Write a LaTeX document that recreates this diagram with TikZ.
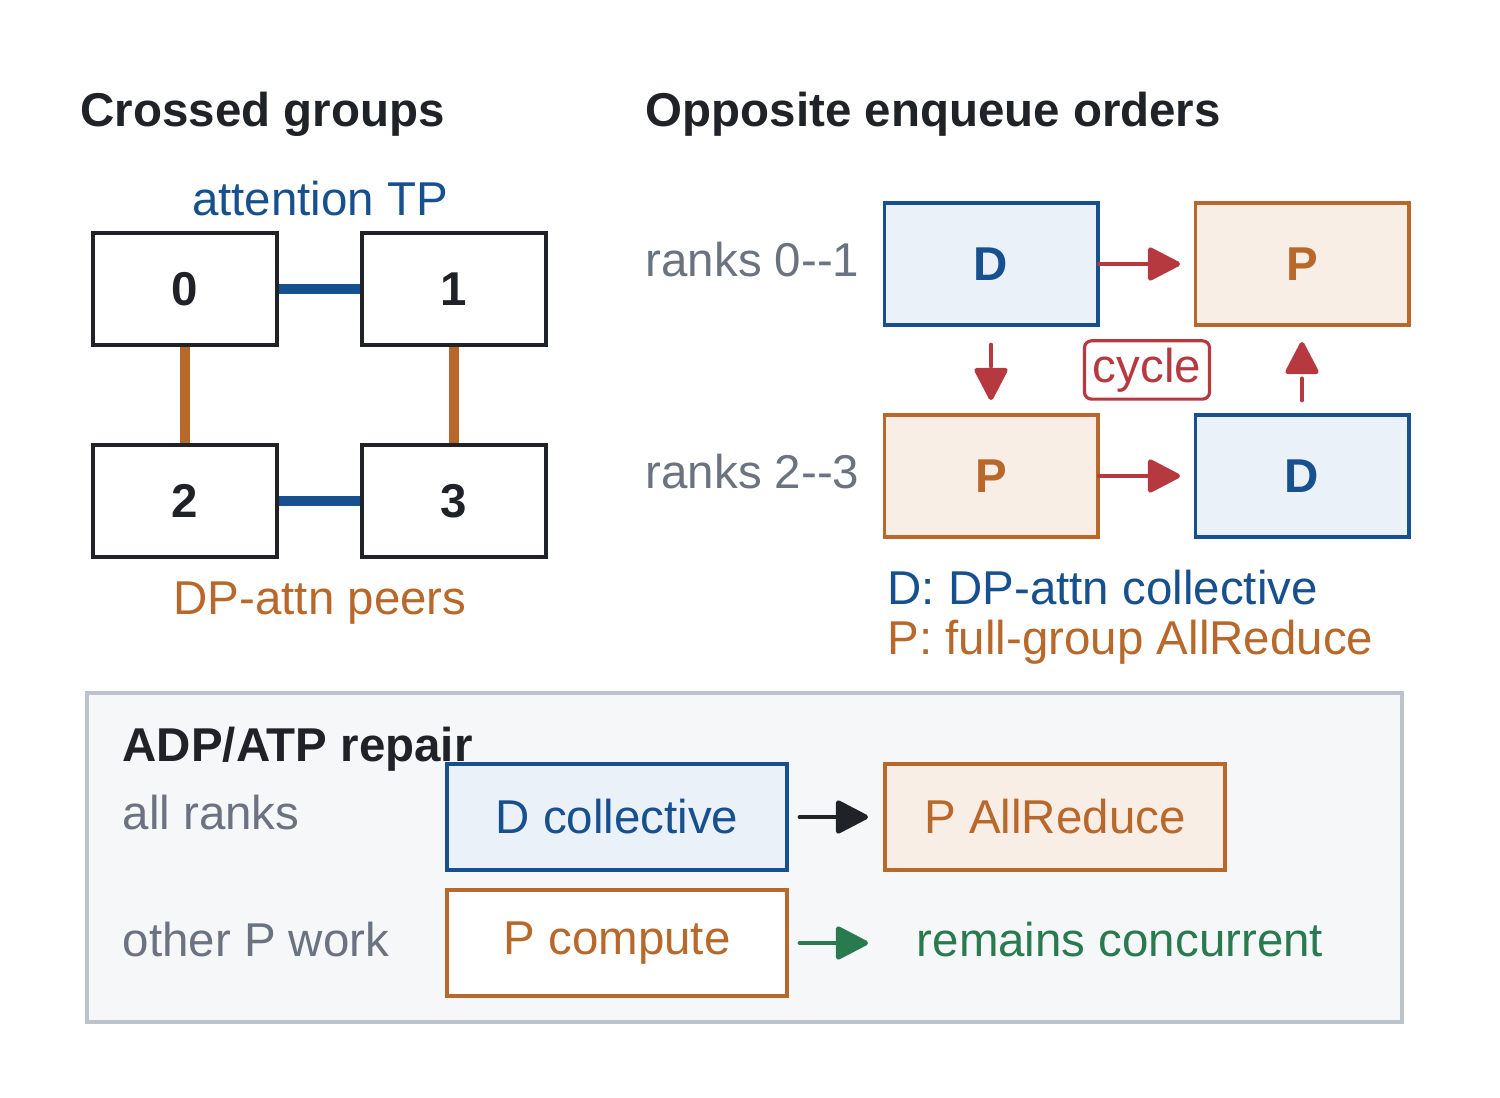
\documentclass[tikz,border=0pt]{standalone}
\usepackage{fontspec}
\setmainfont{Liberation Sans}
\usetikzlibrary{arrows.meta}
\definecolor{cblue}{HTML}{17508F}
\definecolor{corange}{HTML}{B8682A}
\definecolor{cred}{HTML}{B5393F}
\definecolor{cgreen}{HTML}{2A7A50}
\definecolor{cgrey}{HTML}{6B7280}
\definecolor{cdark}{HTML}{1F2328}
\definecolor{lblue}{HTML}{EAF1F9}
\definecolor{lorange}{HTML}{F9EEE5}
\definecolor{pfill}{HTML}{F5F7F9}
\definecolor{pline}{HTML}{BDC3CB}
\begin{document}
\begin{tikzpicture}[x=0.01cm,y=-0.01cm,>={Triangle[length=10pt,width=10pt,round]},
  font=\fontsize{13.5}{16}\selectfont]
 \tikzstyle{rank} = [draw=cdark,line width=1.1pt,
   minimum width=1.84cm,minimum height=1.12cm,font=\fontsize{13.5}{16}\selectfont\bfseries,text=cdark]
 \tikzstyle{dbox} = [draw=cblue,fill=lblue,line width=1.1pt,minimum width=2.13cm,
   minimum height=1.22cm,text=cblue,font=\fontsize{13.5}{16}\selectfont\bfseries]
 \tikzstyle{pbox} = [dbox,draw=corange,fill=lorange,text=corange]
 \tikzstyle{wide} = [minimum width=3.4cm,minimum height=1.06cm,font=\fontsize{13.5}{16}\selectfont]
 \tikzstyle{link} = [line width=2.9pt]
 \tikzstyle{flow} = [->,line width=1.4pt,line cap=round,cred]
 \tikzstyle{title} = [anchor=base west,inner sep=0,text=cdark,font=\fontsize{13.5}{16}\selectfont\bfseries]
 \tikzstyle{side} = [anchor=base west,inner sep=0,text=cgrey]

 \useasboundingbox (0,0) rectangle (1500,1098);

% Crossed groups
 \node[title] (t1) at (80,127) {Crossed groups};
 \node[anchor=base,inner sep=0,text=cblue] (tp) at (320,216) {attention TP};
 \node[rank] (r0) at (185,289) {0};
 \node[rank] (r1) at (454,289) {1};
 \node[rank] (r2) at (185,501) {2};
 \node[rank] (r3) at (454,501) {3};
 \draw[link,cblue] (r0) -- (r1);
 \draw[link,cblue] (r2) -- (r3);
 \draw[link,corange] (r0) -- (r2);
 \draw[link,corange] (r1) -- (r3);
 \node[anchor=base,inner sep=0,text=corange] (dp) at (320,615) {DP-attn peers};

% Opposite enqueue orders
 \node[title] (t2) at (645,127) {Opposite enqueue orders};
 \node[side] (ra) at (645,277) {ranks 0{-}{-}1};
 \node[side] (rb) at (645,489) {ranks 2{-}{-}3};
 \node[dbox] (d1) at (991,264) {D};
 \node[pbox] (p1) at (1302,264) {P};
 \node[pbox] (p2) at (991,476) {P};
 \node[dbox] (d2) at (1302,476) {D};
 \coordinate (e1) at (1180,264);
 \coordinate (e2) at (1180,476);
 \draw[flow] (d1) -- (e1);
 \draw[flow] (p2) -- (e2);
 \coordinate (a1) at (991,345); \coordinate (a2) at (991,400);
 \coordinate (b1) at (1302,400); \coordinate (b2) at (1302,342);
 \draw[flow,dash pattern=on 6pt off 4pt] (a1) -- (a2);
 \draw[flow,dash pattern=on 6pt off 4pt] (b1) -- (b2);
 \node[draw=cred,line width=0.9pt,rounded corners=2pt,text=cred,inner sep=2pt,
   minimum width=1.25cm,minimum height=0.58cm] (cy) at (1147,370) {cycle};
 \node[anchor=base west,inner sep=0,text=cblue] (lg1) at (887,605) {D: DP-attn collective};
 \node[anchor=base west,inner sep=0,text=corange] (lg2) at (887,655) {P: full-group AllReduce};

% ADP/ATP repair
 \draw[draw=pline,fill=pfill,line width=1.1pt] (87,693) rectangle (1402,1022);
 \node[title] (t3) at (122,762) {ADP/ATP repair};
 \node[side] (al) at (122,830) {all ranks};
 \node[side] (ot) at (122,956) {other P work};
 \node[dbox,wide,text=cblue] (dc) at (617,817) {D collective};
 \node[pbox,wide,text=corange] (pa) at (1055,817) {P AllReduce};
 \node[pbox,wide,fill=white,text=corange] (pc) at (617,943) {P compute};
 \node[anchor=base,inner sep=0,text=cgreen] (rc) at (1120,956) {remains concurrent};
 \coordinate (s1) at (800,817); \coordinate (s2) at (868,817);
 \coordinate (g1) at (800,943); \coordinate (g2) at (868,943);
 \draw[->,line width=1.4pt,line cap=round,cdark] (s1) -- (s2);
 \draw[->,line width=1.4pt,line cap=round,cgreen] (g1) -- (g2);

\end{tikzpicture}
\end{document}
